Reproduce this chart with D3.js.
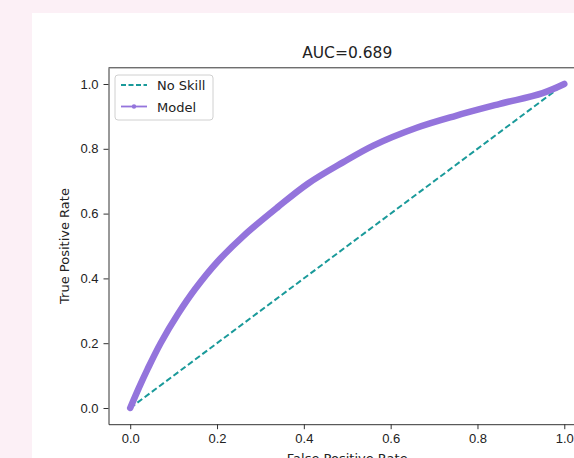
<!DOCTYPE html>
<html>
<head>
<meta charset="utf-8">
<script src="https://cdn.jsdelivr.net/npm/d3@7"></script>
<style>
  body { margin: 0; background: #fcf0f6; }
  svg { display: block; font-family: "DejaVu Sans", sans-serif; }
  .axis text { font-size: 13px; fill: #222; }
  .axis path, .axis line { stroke: #333; }
</style>
</head>
<body>
<div id="chart"></div>
<script>
const title = "AUC=0.689";
const xLabel = "False Positive Rate";
const yLabel = "True Positive Rate";

// ROC curve
const fpr = [0, 0.02, 0.04, 0.07, 0.11, 0.15, 0.2, 0.26, 0.34, 0.41, 0.49, 0.56, 0.66, 0.75, 0.85, 0.95, 1.0];
const tpr = [0, 0.062, 0.120, 0.200, 0.290, 0.368, 0.450, 0.530, 0.620, 0.693, 0.758, 0.810, 0.865, 0.902, 0.938, 0.972, 1.0];

// no-skill diagonal
const skillX = [0, 1];
const skillY = [0, 1];

const ticks = [0, 0.2, 0.4, 0.6, 0.8, 1.0];
const seriesNames = ["No Skill", "Model"];

const W = 574, H = 458;
const plot = {left: 108.5, right: 586, top: 67.8, bottom: 424.2};

const svg = d3.select("#chart").append("svg")
  .attr("width", W)
  .attr("height", H);

// white figure panel
svg.append("rect")
  .attr("x", 32).attr("y", 13)
  .attr("width", W - 32).attr("height", H - 13)
  .attr("fill", "#fff");

const x = d3.scaleLinear().domain([-0.05, 1.05]).range([plot.left, plot.right]);
const y = d3.scaleLinear().domain([-0.05, 1.05]).range([plot.bottom, plot.top]);

const line = d3.line().x(d => x(d[0])).y(d => y(d[1]));

// no skill
svg.append("path")
  .datum(d3.zip(skillX, skillY))
  .attr("d", line)
  .attr("fill", "none")
  .attr("stroke", "#1a9a9a")
  .attr("stroke-width", 2)
  .attr("stroke-dasharray", "6,3");

// model
svg.append("path")
  .datum(d3.zip(fpr, tpr))
  .attr("d", line.curve(d3.curveCatmullRom.alpha(0.5)))
  .attr("fill", "none")
  .attr("stroke", "#9474dc")
  .attr("stroke-width", 6.5)
  .attr("stroke-linecap", "round")
  .attr("stroke-linejoin", "round");

// axes
svg.append("g")
  .attr("class", "axis")
  .attr("transform", `translate(0,${plot.bottom})`)
  .call(d3.axisBottom(x).tickValues(ticks).tickFormat(d3.format(".1f")).tickSize(5).tickPadding(5).tickSizeOuter(0));

svg.append("g")
  .attr("class", "axis")
  .attr("transform", `translate(${plot.left},0)`)
  .call(d3.axisLeft(y).tickValues(ticks).tickFormat(d3.format(".1f")).tickSize(5).tickPadding(5).tickSizeOuter(0));

// top spine
svg.append("line")
  .attr("x1", plot.left).attr("x2", plot.right)
  .attr("y1", plot.top).attr("y2", plot.top)
  .attr("stroke", "#333");

// title
svg.append("text")
  .attr("x", (plot.left + plot.right) / 2)
  .attr("y", 58)
  .attr("text-anchor", "middle")
  .style("font-size", "15.5px")
  .attr("fill", "#222")
  .text(title);

// axis labels
svg.append("text")
  .attr("x", (plot.left + plot.right) / 2)
  .attr("y", 463)
  .attr("text-anchor", "middle")
  .style("font-size", "13px")
  .attr("fill", "#222")
  .text(xLabel);

svg.append("text")
  .attr("transform", "rotate(-90)")
  .attr("x", -(plot.top + plot.bottom) / 2)
  .attr("y", 69)
  .attr("text-anchor", "middle")
  .style("font-size", "13px")
  .attr("fill", "#222")
  .text(yLabel);

// legend
const legend = svg.append("g").attr("transform", "translate(115,75)");
legend.append("rect")
  .attr("width", 98).attr("height", 45)
  .attr("rx", 3)
  .attr("fill", "#fff").attr("fill-opacity", 0.8)
  .attr("stroke", "#d0d0d0");

const items = legend.selectAll("g.item")
  .data(seriesNames)
  .enter().append("g")
  .attr("class", "item")
  .attr("transform", (d, i) => `translate(0,${10 + i * 21.5})`);

items.append("line")
  .attr("x1", 6).attr("x2", 32)
  .attr("stroke", (d, i) => i === 0 ? "#1a9a9a" : "#9474dc")
  .attr("stroke-width", 1.8)
  .attr("stroke-dasharray", (d, i) => i === 0 ? "5,2.5" : null);

items.filter((d, i) => i === 1).append("circle")
  .attr("cx", 19).attr("r", 2.2)
  .attr("fill", "#9474dc");

items.append("text")
  .attr("x", 42)
  .attr("y", 5)
  .style("font-size", "13px")
  .attr("fill", "#222")
  .text(d => d);
</script>
</body>
</html>
